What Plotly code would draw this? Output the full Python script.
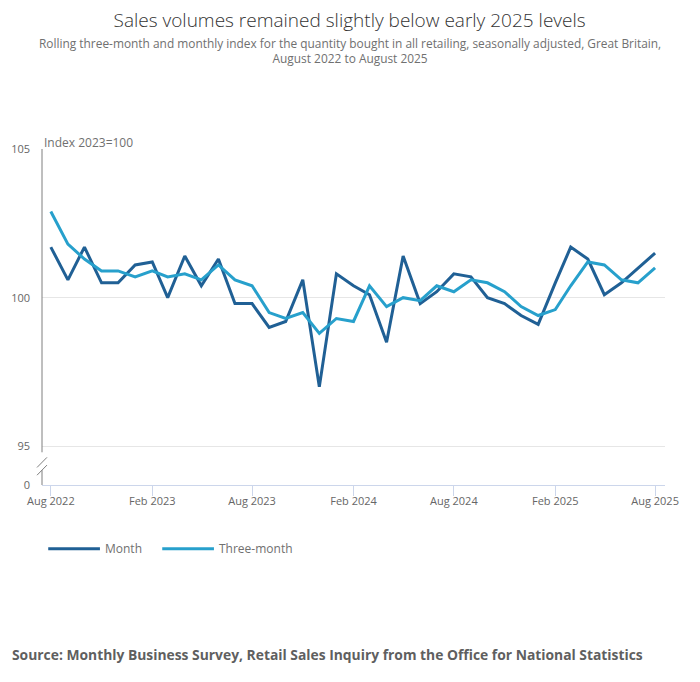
import plotly.graph_objects as go
import pandas as pd

months = pd.date_range("2022-08-01", "2025-08-01", freq="MS")

month_index = [
    101.7, 100.6, 101.7, 100.5, 100.5, 101.1, 101.2, 100.0, 101.4, 100.4,
    101.3, 99.8, 99.8, 99.0, 99.2, 100.6, 97.0, 100.8, 100.4, 100.1,
    98.5, 101.4, 99.8, 100.2, 100.8, 100.7, 100.0, 99.8, 99.4, 99.1,
    100.5, 101.7, 101.3, 100.1, 100.5, 101.0, 101.5,
]
three_month_index = [
    102.9, 101.8, 101.3, 100.9, 100.9, 100.7, 100.9, 100.7, 100.8, 100.6,
    101.1, 100.6, 100.4, 99.5, 99.3, 99.5, 98.8, 99.3, 99.2, 100.4,
    99.7, 100.0, 99.9, 100.4, 100.2, 100.6, 100.5, 100.2, 99.7, 99.4,
    99.6, 100.4, 101.2, 101.1, 100.6, 100.5, 101.0,
]

series_names = ["Month", "Three-month"]
colours = ["#206095", "#27a0cc"]

y_ticks = [93.7, 95, 100, 105]
y_ticktext = ["0", "95", "100", "105"]
y_break = (94.2, 94.8)   # gap in the y axis line

font = "Open Sans"

fig = go.Figure()
for name, vals, col in zip(series_names, [month_index, three_month_index], colours):
    fig.add_trace(go.Scatter(
        x=months, y=vals, name=name, mode="lines",
        line=dict(color=col, width=3),
        showlegend=False,
    ))

# y axis line drawn by hand so it can be broken between 0 and 95
axis_col = "#7f7f7f"
shapes = [
    dict(type="line", xref="paper", yref="y", x0=0, x1=0, y0=y_break[1], y1=105,
         line=dict(color=axis_col, width=1)),
    dict(type="line", xref="paper", yref="y", x0=0, x1=0, y0=y_ticks[0], y1=y_break[0],
         line=dict(color=axis_col, width=1)),
]
for off in (0.0, 0.26):
    shapes.append(dict(type="line", xref="paper", yref="y",
                       x0=-0.008, x1=0.008, y0=y_break[0] - 0.17 + off, y1=y_break[0] + 0.17 + off,
                       line=dict(color=axis_col, width=1)))

# legend built by hand to get the long line keys
legend_y = -0.19
leg_x = [0.01, 0.193]
for name, col, lx in zip(series_names, colours, leg_x):
    shapes.append(dict(type="line", xref="paper", yref="paper",
                       x0=lx, x1=lx + 0.083, y0=legend_y, y1=legend_y,
                       line=dict(color=col, width=3)))

annotations = [
    dict(text="Index 2023=100", xref="paper", yref="paper", x=0.0, y=1.0 + 7 / 336,
         xanchor="left", yanchor="middle", showarrow=False,
         font=dict(family=font, size=12, color="#707070")),
    dict(text="Source: Monthly Business Survey, Retail Sales Inquiry from the Office for National Statistics",
         xref="paper", yref="paper", x=-0.052, y=-0.505, xanchor="left", yanchor="middle",
         showarrow=False, font=dict(family=font, size=13.85, color="#5f5f5f", weight="bold")),
    dict(text="Rolling three-month and monthly index for the quantity bought in all retailing, seasonally adjusted, Great Britain,<br>August 2022 to August 2025",
         xref="paper", yref="paper", x=0.494, y=1.0 + 98 / 336, xanchor="center", yanchor="middle",
         showarrow=False, font=dict(family=font, size=11.9, color="#707070")),
]
for name, lx in zip(series_names, leg_x):
    annotations.append(dict(text=name, xref="paper", yref="paper", x=lx + 0.088, y=legend_y,
                            xanchor="left", yanchor="middle", showarrow=False,
                            font=dict(family=font, size=12, color="#707070")))

fig.update_layout(
    width=700, height=682,
    margin=dict(l=34, r=43, t=141, b=205),
    plot_bgcolor="white", paper_bgcolor="white",
    title=dict(text="Sales volumes remained slightly below early 2025 levels",
               x=0.488, xanchor="center", y=1 - 12 / 682, yanchor="middle",
               font=dict(family=font, size=19, color="#333333", weight=300)),
    xaxis=dict(
        type="date", range=["2022-07-16", "2025-08-19"],
        tick0="2022-08-01", dtick="M6", tickformat="%b %Y",
        ticks="outside", ticklen=10, tickcolor="#ccd6eb", ticklabelstandoff=-4,
        showline=True, linecolor="#ccd6eb", linewidth=1,
        showgrid=False, zeroline=False, automargin=False,
        tickfont=dict(family=font, size=11, color="#666666"),
    ),
    yaxis=dict(
        range=[y_ticks[0], 105], tickvals=y_ticks, ticktext=y_ticktext,
        showgrid=True, gridcolor="#e6e6e6", zeroline=False, showline=False,
        ticks="", ticklabelstandoff=11, automargin=False,
        tickfont=dict(family=font, size=11, color="#666666"),
    ),
    shapes=shapes,
    annotations=annotations,
)

fig.write_html("out.html")
